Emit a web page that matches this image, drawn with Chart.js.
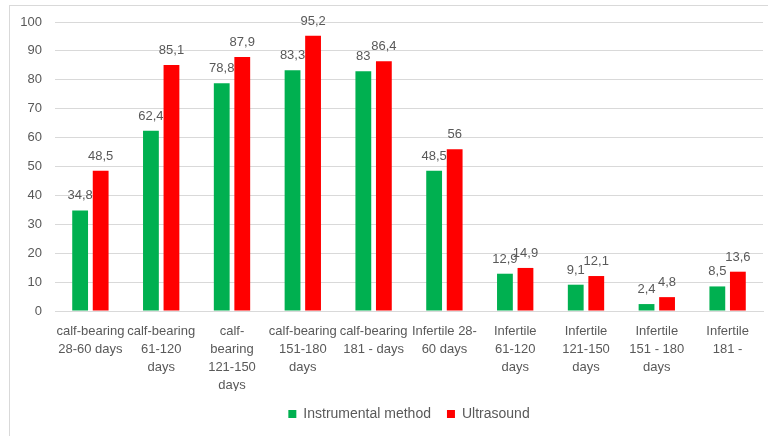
<!DOCTYPE html>
<html>
<head>
<meta charset="utf-8">
<script src="https://cdn.jsdelivr.net/npm/chart.js@4/dist/chart.umd.min.js"></script>
<style>
  html, body { margin: 0; padding: 0; background: #fff; }
  #wrap { position: relative; width: 768px; height: 436px; }
  #frame { position: absolute; left: 9px; top: 5px; width: 780px; height: 460px;
           border: 1px solid #d9d9d9; box-sizing: border-box; pointer-events: none; }
  canvas { position: absolute; left: 0; top: 0; }
</style>
</head>
<body>
<div id="wrap">
  <canvas id="chart" width="768" height="436"></canvas>
  <div id="frame"></div>
</div>
<script>
// Pregnancy diagnosis results by group
const categories = [
  ["calf-bearing", "28-60 days"],
  ["calf-bearing", "61-120", "days"],
  ["calf-", "bearing", "121-150", "days"],
  ["calf-bearing", "151-180", "days"],
  ["calf-bearing", "181 - days"],
  ["Infertile 28-", "60 days"],
  ["Infertile", "61-120", "days"],
  ["Infertile", "121-150", "days"],
  ["Infertile", "151 - 180", "days"],
  ["Infertile", "181 -"]
];
const instrumental = [34.8, 62.4, 78.8, 83.3, 83, 48.5, 12.9, 9.1, 2.4, 8.5];
const ultrasound   = [48.5, 85.1, 87.9, 95.2, 86.4, 56, 14.9, 12.1, 4.8, 13.6];
const yTicks = [0, 10, 20, 30, 40, 50, 60, 70, 80, 90, 100];

const FONT = "'Liberation Sans', Arial, sans-serif";
const TEXT = '#595959';

// Value labels above each bar, decimal comma
const valueLabels = {
  id: 'valueLabels',
  afterDatasetsDraw(chart) {
    const ctx = chart.ctx;
    ctx.save();
    ctx.font = '13px ' + FONT;
    ctx.fillStyle = TEXT;
    ctx.textAlign = 'center';
    ctx.textBaseline = 'alphabetic';
    chart.data.datasets.forEach((ds, i) => {
      chart.getDatasetMeta(i).data.forEach((bar, j) => {
        const txt = String(ds.data[j]).replace('.', ',');
        ctx.fillText(txt, bar.x, bar.y - 11);
      });
    });
    ctx.restore();
  }
};

new Chart(document.getElementById('chart'), {
  type: 'bar',
  data: {
    labels: categories,
    datasets: [
      { label: 'Instrumental method', data: instrumental, backgroundColor: '#00B050' },
      { label: 'Ultrasound', data: ultrasound, backgroundColor: '#FF0000' }
    ]
  },
  options: {
    responsive: false,
    animation: false,
    layout: { padding: { top: 22, right: 5, left: 0, bottom: 5 } },
    datasets: { bar: { categoryPercentage: 0.58, barPercentage: 0.77 } },
    scales: {
      x: {
        grid: { display: false },
        border: { color: '#d9d9d9' },
        ticks: { color: TEXT, font: { family: FONT, size: 13, lineHeight: 1.4 }, maxRotation: 0, autoSkip: false, padding: 3 },
        afterFit(s) { s.height = 80; }
      },
      y: {
        min: 0, max: 100,
        afterBuildTicks(s) { s.ticks = yTicks.map(v => ({ value: v })); },
        grid: { color: '#d9d9d9', drawTicks: false },
        border: { display: false },
        ticks: { color: TEXT, font: { family: FONT, size: 13 }, padding: 13 },
        afterFit(s) { s.width = 55; }
      }
    },
    plugins: {
      legend: {
        position: 'bottom',
        fullSize: false,
        labels: { color: TEXT, font: { family: FONT, size: 14 }, boxWidth: 8, boxHeight: 8, padding: 16 }
      },
      tooltip: { enabled: false }
    }
  },
  plugins: [valueLabels]
});
</script>
</body>
</html>
